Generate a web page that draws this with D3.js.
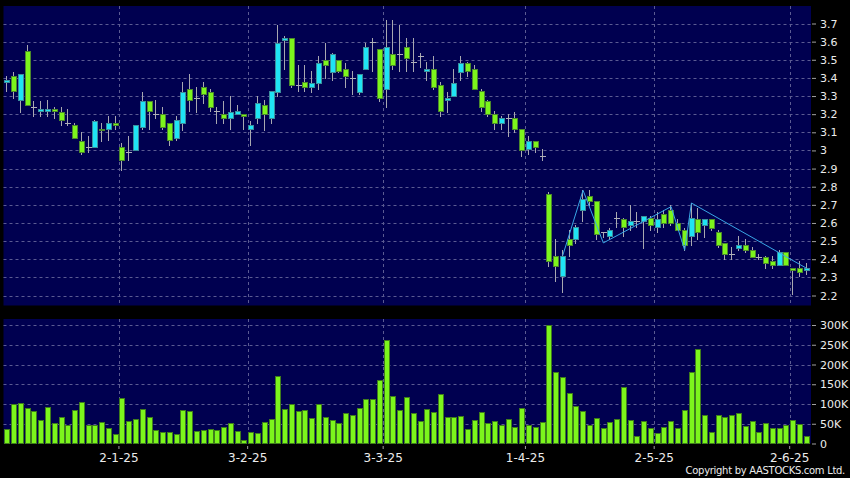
<!DOCTYPE html>
<html><head><meta charset="utf-8">
<script src="https://cdn.jsdelivr.net/npm/d3@7"></script>
<style>html,body{margin:0;padding:0;background:#000;}svg{display:block;}</style>
</head><body>
<svg id="c" width="850" height="478"></svg>
<script>
const dates = [
"2024-12-05","2024-12-06","2024-12-09","2024-12-10","2024-12-11","2024-12-12","2024-12-13","2024-12-16","2024-12-17","2024-12-18",
"2024-12-19","2024-12-20","2024-12-23","2024-12-24","2024-12-27","2024-12-30","2024-12-31",
"2025-01-02","2025-01-03","2025-01-06","2025-01-07","2025-01-08","2025-01-09","2025-01-10","2025-01-13","2025-01-14","2025-01-15",
"2025-01-16","2025-01-17","2025-01-20","2025-01-21","2025-01-22","2025-01-23","2025-01-24","2025-01-27","2025-01-28",
"2025-02-03","2025-02-04","2025-02-05","2025-02-06","2025-02-07","2025-02-10","2025-02-11","2025-02-12","2025-02-13","2025-02-14",
"2025-02-17","2025-02-18","2025-02-19","2025-02-20","2025-02-21","2025-02-24","2025-02-25","2025-02-26","2025-02-27","2025-02-28",
"2025-03-03","2025-03-04","2025-03-05","2025-03-06","2025-03-07","2025-03-10","2025-03-11","2025-03-12","2025-03-13","2025-03-14",
"2025-03-17","2025-03-18","2025-03-19","2025-03-20","2025-03-21","2025-03-24","2025-03-25","2025-03-26","2025-03-27","2025-03-28","2025-03-31",
"2025-04-01","2025-04-02","2025-04-03","2025-04-07","2025-04-08","2025-04-09","2025-04-10","2025-04-11","2025-04-14","2025-04-15",
"2025-04-16","2025-04-17","2025-04-22","2025-04-23","2025-04-24","2025-04-25","2025-04-28","2025-04-29","2025-04-30",
"2025-05-02","2025-05-06","2025-05-07","2025-05-08","2025-05-09","2025-05-12","2025-05-13","2025-05-14","2025-05-15","2025-05-16",
"2025-05-19","2025-05-20","2025-05-21","2025-05-22","2025-05-23","2025-05-26","2025-05-27","2025-05-28","2025-05-29","2025-05-30",
"2025-06-02","2025-06-03","2025-06-04"];

const open = [3.38,3.41,3.28,3.55,3.24,3.22,3.22,3.23,3.21,3.15,
 3.14,3.05,3.02,3.02,3.12,3.12,3.15,3.02,2.99,3.00,
 3.13,3.27,3.20,3.20,3.15,3.07,3.15,3.34,3.29,3.35,
 3.32,3.22,3.20,3.18,3.20,3.20,3.12,3.18,3.25,3.18,
 3.32,3.61,3.62,3.36,3.38,3.35,3.37,3.50,3.43,3.50,
 3.45,3.40,3.32,3.45,3.60,3.56,3.34,3.53,3.53,3.57,
 3.49,3.52,3.44,3.45,3.36,3.28,3.30,3.43,3.48,3.45,
 3.33,3.27,3.20,3.15,3.18,3.18,3.12,3.01,3.05,2.97,
 2.76,2.42,2.31,2.51,2.51,2.67,2.75,2.72,2.55,2.53,
 2.63,2.62,2.59,2.61,2.61,2.63,2.58,2.65,2.67,2.60,
 2.56,2.53,2.62,2.59,2.62,2.55,2.49,2.43,2.46,2.48,
 2.45,2.41,2.41,2.39,2.37,2.44,2.35,2.35,2.34];
const high = [3.41,3.43,3.42,3.58,3.27,3.27,3.28,3.24,3.24,3.23,
 3.15,3.10,3.08,3.17,3.15,3.19,3.19,3.04,3.08,3.14,
 3.32,3.27,3.28,3.24,3.15,3.19,3.38,3.42,3.35,3.38,
 3.34,3.24,3.27,3.30,3.25,3.20,3.16,3.30,3.28,3.33,
 3.69,3.63,3.62,3.47,3.47,3.44,3.52,3.59,3.54,3.50,
 3.48,3.44,3.42,3.59,3.62,3.56,3.72,3.72,3.69,3.62,
 3.62,3.54,3.49,3.52,3.38,3.32,3.45,3.52,3.49,3.47,
 3.34,3.28,3.22,3.19,3.20,3.21,3.12,3.08,3.05,3.01,
 2.77,2.51,2.45,2.56,2.59,2.78,2.78,2.72,2.55,2.57,
 2.66,2.63,2.70,2.66,2.64,2.64,2.66,2.67,2.70,2.62,
 2.57,2.71,2.68,2.62,2.62,2.56,2.49,2.47,2.53,2.51,
 2.47,2.43,2.42,2.42,2.45,2.44,2.35,2.39,2.38];
const low = [3.33,3.29,3.21,3.25,3.19,3.19,3.19,3.18,3.14,3.14,
 3.07,2.98,2.99,3.02,3.05,3.06,3.12,2.89,2.95,3.00,
 3.12,3.12,3.18,3.12,3.03,3.06,3.11,3.22,3.21,3.26,
 3.22,3.15,3.15,3.12,3.20,3.12,3.03,3.15,3.11,3.15,
 3.30,3.45,3.35,3.33,3.33,3.32,3.34,3.40,3.39,3.43,
 3.35,3.31,3.31,3.45,3.44,3.27,3.24,3.45,3.44,3.44,
 3.44,3.46,3.39,3.34,3.19,3.21,3.30,3.39,3.41,3.34,
 3.22,3.19,3.12,3.12,3.08,3.10,2.97,2.98,2.99,2.95,
 2.36,2.28,2.22,2.42,2.49,2.61,2.70,2.51,2.52,2.51,
 2.58,2.53,2.56,2.58,2.46,2.56,2.55,2.58,2.59,2.56,
 2.45,2.48,2.51,2.52,2.56,2.47,2.40,2.40,2.45,2.44,
 2.41,2.40,2.35,2.35,2.37,2.37,2.21,2.31,2.32];
const close = [3.39,3.33,3.42,3.25,3.24,3.23,3.23,3.22,3.17,3.15,
 3.07,2.99,3.02,3.16,3.11,3.15,3.14,2.95,2.99,3.14,
 3.27,3.22,3.20,3.13,3.06,3.17,3.32,3.28,3.29,3.31,
 3.24,3.22,3.18,3.21,3.22,3.19,3.14,3.26,3.20,3.33,
 3.59,3.62,3.36,3.36,3.35,3.37,3.48,3.47,3.53,3.44,
 3.41,3.40,3.42,3.57,3.60,3.29,3.57,3.47,3.53,3.51,
 3.49,3.52,3.45,3.35,3.22,3.29,3.37,3.48,3.44,3.34,
 3.24,3.20,3.15,3.18,3.18,3.12,3.00,3.05,3.02,2.97,
 2.39,2.36,2.42,2.48,2.58,2.73,2.72,2.54,2.55,2.56,
 2.63,2.58,2.61,2.61,2.64,2.59,2.62,2.60,2.60,2.56,
 2.48,2.63,2.55,2.62,2.57,2.48,2.43,2.43,2.48,2.45,
 2.41,2.41,2.38,2.37,2.44,2.37,2.34,2.33,2.35];
const volume = [36000,99000,103000,89000,82000,59000,93000,51000,68000,46000,
 85000,104000,46000,46000,55000,40000,25000,114000,57000,62000,
 87000,66000,35000,30000,28000,24000,84000,82000,32000,34000,
 36000,34000,41000,51000,31000,10000,28000,27000,54000,63000,
 172000,87000,101000,82000,85000,65000,101000,68000,60000,51000,
 76000,73000,91000,112000,113000,162000,262000,121000,85000,118000,
 78000,58000,88000,81000,125000,68000,66000,69000,37000,59000,
 81000,51000,57000,46000,63000,41000,91000,46000,41000,55000,
 300000,182000,168000,127000,95000,82000,46000,65000,39000,55000,
 63000,142000,59000,19000,57000,38000,26000,42000,58000,38000,
 84000,180000,239000,72000,30000,72000,67000,71000,78000,45000,
 57000,30000,51000,40000,38000,46000,59000,50000,19000];

const zigzagDates = ["2025-04-09","2025-04-14","2025-04-17","2025-05-07","2025-05-09","2025-05-12","2025-06-04"];
const zigzagValues = [2.42,2.78,2.49,2.69,2.45,2.71,2.35];

const tickDates = ["2025-01-02","2025-02-03","2025-03-03","2025-04-01","2025-05-02","2025-06-02"];
const tickLabels = ["2-1-25","3-2-25","3-3-25","1-4-25","2-5-25","2-6-25"];
const priceTicks = [2.2,2.3,2.4,2.5,2.6,2.7,2.8,2.9,3.0,3.1,3.2,3.3,3.4,3.5,3.6,3.7];
const volumeTicks = [0,50000,100000,150000,200000,250000,300000];

const FONT = "DejaVu Sans";
const svg = d3.select("#c");
svg.append("rect").attr("width",850).attr("height",478).attr("fill","#000");

const x = d3.scaleBand().domain(dates).range([3.76, 810]).paddingInner(0.16).paddingOuter(0.08);
const y = d3.scaleLinear().domain([2.2, 3.7]).range([295.5, 23.5]);
const yv = d3.scaleLinear().domain([0, 300000]).range([443.5, 325]);

const panelL = 3.5, panelR = 811;
const pTop = 6, pBot = 305.5, vTop = 319, vBot = 443.5;
const navy = "#000050";
const gridCol = "#5b5b92";

svg.append("rect").attr("x",panelL).attr("y",pTop).attr("width",panelR-panelL).attr("height",pBot-pTop).attr("fill",navy);
svg.append("rect").attr("x",panelL).attr("y",vTop).attr("width",panelR-panelL).attr("height",vBot-vTop).attr("fill",navy);

const gap = x.step()*x.paddingInner();
const bx = d => Math.round(x(d) - gap/2) + 0.5;

// grid
const grid = svg.append("g").attr("stroke",gridCol).attr("stroke-width",1).attr("stroke-dasharray","3,3");
grid.selectAll(".hp").data(priceTicks).join("line")
  .attr("x1",panelL).attr("x2",panelR)
  .attr("y1",d=>Math.round(y(d))+0.5).attr("y2",d=>Math.round(y(d))+0.5);
grid.selectAll(".hv").data(volumeTicks.filter(v=>v>0)).join("line").attr("class","hv")
  .attr("x1",panelL).attr("x2",panelR)
  .attr("y1",d=>Math.round(yv(d))+0.5).attr("y2",d=>Math.round(yv(d))+0.5);
grid.selectAll(".vp").data(tickDates).join("line").attr("class","vp")
  .attr("x1",bx).attr("x2",bx).attr("y1",pTop).attr("y2",pBot);
grid.selectAll(".vv").data(tickDates).join("line").attr("class","vv")
  .attr("x1",bx).attr("x2",bx).attr("y1",vTop).attr("y2",vBot);

// candles
const rows = dates.map((d,i)=>({d, o:open[i], h:high[i], l:low[i], c:close[i], v:volume[i]}));
const UP_F="#1fe4f4", UP_S="#3b8f9c", DN_F="#7cf51c", DN_S="#4c8a2c", DOJI="#b0b0b8", WICK="#a8a8b0";
const bw = Math.round(x.bandwidth());
const cg = svg.append("g");
rows.forEach(r=>{
  const cx = Math.round(x(r.d));
  cg.append("line").attr("x1",cx+2.5).attr("x2",cx+2.5)
    .attr("y1",Math.round(y(r.h))).attr("y2",Math.round(y(r.l))+1)
    .attr("stroke",WICK).attr("stroke-width",1);
  if (r.o === r.c) {
    const yy = Math.round(y(r.o))+0.5;
    cg.append("line").attr("x1",cx).attr("x2",cx+bw).attr("y1",yy).attr("y2",yy)
      .attr("stroke",DOJI).attr("stroke-width",1);
  } else {
    const up = r.c > r.o;
    const t = Math.round(y(Math.max(r.o,r.c))), b = Math.round(y(Math.min(r.o,r.c)));
    cg.append("rect").attr("x",cx+0.5).attr("y",t+0.5).attr("width",bw-1).attr("height",Math.max(b-t,1))
      .attr("fill",up?UP_F:DN_F).attr("stroke",up?UP_S:DN_S).attr("stroke-width",1);
  }
});

// zigzag line
const zz = zigzagDates.map((d,i)=>[x(d)+x.bandwidth()/2, y(zigzagValues[i])]);
svg.append("path").attr("d", d3.line()(zz)).attr("fill","none").attr("stroke","#39a6e6").attr("stroke-width",1);

// volume bars
svg.append("g").selectAll("rect").data(rows).join("rect")
  .attr("x",r=>Math.round(x(r.d))+0.5)
  .attr("y",r=>Math.round(yv(r.v))+0.5)
  .attr("width",bw-1)
  .attr("height",r=>Math.max(Math.round(yv(0)) - Math.round(yv(r.v)) - 1, 0))
  .attr("fill","#7cf51c").attr("stroke","#3f7d1c").attr("stroke-width",1);

// axes
const fmtP = d => String(+d.toFixed(1));
const fmtV = d => d===0 ? "0" : (d/1000)+"K";
const ax1 = svg.append("g").attr("transform","translate(812,0)")
  .call(d3.axisRight(y).tickValues(priceTicks).tickFormat(fmtP).tickSize(4).tickPadding(4));
const ax2 = svg.append("g").attr("transform","translate(812,0)")
  .call(d3.axisRight(yv).tickValues(volumeTicks).tickFormat(fmtV).tickSize(4).tickPadding(4));
const ax3 = svg.append("g").attr("transform",`translate(${-x.step()/2},446)`)
  .call(d3.axisBottom(x).tickValues(tickDates).tickFormat((d,i)=>tickLabels[i]).tickSize(3).tickPadding(4));
[ax1,ax2,ax3].forEach(a=>{
  a.select(".domain").remove();
  a.selectAll(".tick line").attr("stroke","#a0a0a0");
  a.selectAll("text").attr("fill","#ececec").attr("font-family",FONT);
});
ax1.selectAll("text").attr("font-size",11);
ax2.selectAll("text").attr("font-size",11);
ax3.selectAll("text").attr("font-size",12);

svg.append("text").attr("x",845).attr("y",474).attr("text-anchor","end")
  .attr("font-family",FONT).attr("font-size",10).attr("letter-spacing","-0.3px").attr("fill","#ececec")
  .text("Copyright by AASTOCKS.com Ltd.");
</script>
</body></html>
